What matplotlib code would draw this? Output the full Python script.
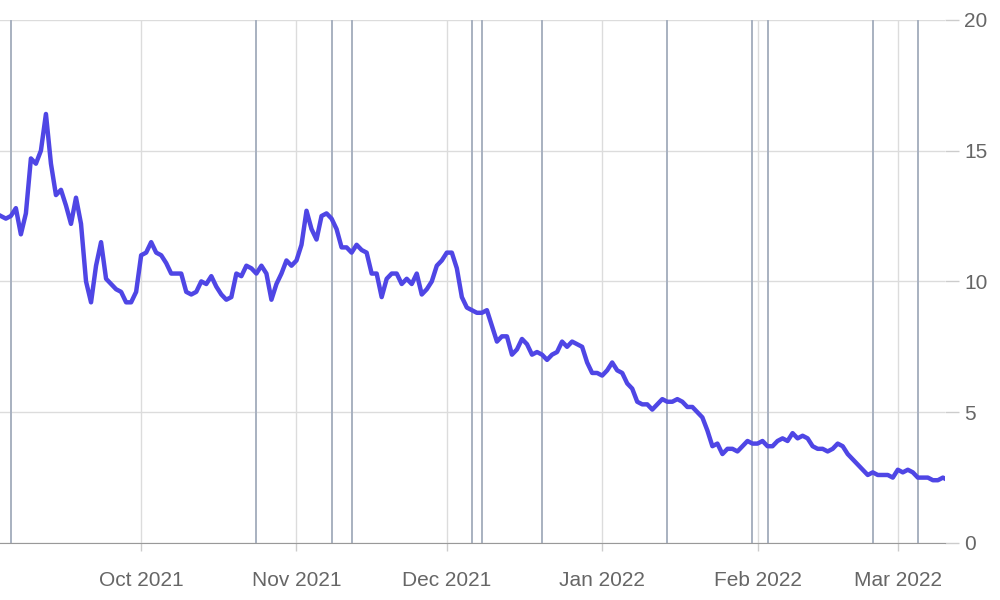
import matplotlib
matplotlib.use("Agg")
import matplotlib.pyplot as plt
import pandas as pd

start_date = "2021-09-03"
values = [12.5,12.4,12.5,12.8,11.8,12.6,14.7,14.5,15.0,16.4,14.5,13.3,13.5,12.9,12.2,13.2,12.2,10.0,9.2,10.6,
11.5,10.1,9.9,9.7,9.6,9.2,9.2,9.6,11.0,11.1,11.5,11.1,11.0,10.7,10.3,10.3,10.3,9.6,9.5,9.6,
10.0,9.9,10.2,9.8,9.5,9.3,9.4,10.3,10.2,10.6,10.5,10.3,10.6,10.3,9.3,9.9,10.3,10.8,10.6,10.8,
11.4,12.7,12.0,11.6,12.5,12.6,12.4,12.0,11.3,11.3,11.1,11.4,11.2,11.1,10.3,10.3,9.4,10.1,10.3,10.3,
9.9,10.1,9.9,10.3,9.5,9.7,10.0,10.6,10.8,11.1,11.1,10.5,9.4,9.0,8.9,8.8,8.8,8.9,8.3,7.7,
7.9,7.9,7.2,7.4,7.8,7.6,7.2,7.3,7.2,7.0,7.2,7.3,7.7,7.5,7.7,7.6,7.5,6.9,6.5,6.5,
6.4,6.6,6.9,6.6,6.5,6.1,5.9,5.4,5.3,5.3,5.1,5.3,5.5,5.4,5.4,5.5,5.4,5.2,5.2,5.0,
4.8,4.3,3.7,3.8,3.4,3.6,3.6,3.5,3.7,3.9,3.8,3.8,3.9,3.7,3.7,3.9,4.0,3.9,4.2,4.0,
4.1,4.0,3.7,3.6,3.6,3.5,3.6,3.8,3.7,3.4,3.2,3.0,2.8,2.6,2.7,2.6,2.6,2.6,2.5,2.8,
2.7,2.8,2.7,2.5,2.5,2.5,2.4,2.4,2.5,2.4]
event_dates = ["2021-09-05","2021-10-24","2021-11-08","2021-11-12","2021-12-06","2021-12-08",
               "2021-12-20","2022-01-14","2022-01-31","2022-02-03","2022-02-24","2022-03-05"]
month_ticks = ["2021-10-01","2021-11-01","2021-12-01","2022-01-01","2022-02-01","2022-03-01"]
month_labels = ["Oct 2021","Nov 2021","Dec 2021","Jan 2022","Feb 2022","Mar 2022"]
y_ticks = [0,5,10,15,20]

dates = pd.date_range(start_date, periods=len(values), freq="D")

fig = plt.figure(figsize=(10,6), dpi=100)
ax = fig.add_axes([0.0, 0.095, 0.945, 0.872])
ax.set_xlim(pd.Timestamp("2021-09-02 20:00"), pd.Timestamp("2022-03-10 10:00"))
ax.set_ylim(0,20)

for d in event_dates:
    ax.axvline(pd.Timestamp(d), color="#a8b1c0", lw=1.4, zorder=1)
ax.plot(dates, values, color="#4f46e5", lw=3.2, zorder=3, solid_joinstyle="round")

ax.set_xticks([pd.Timestamp(t) for t in month_ticks])
ax.set_xticklabels(month_labels)
ax.set_yticks(y_ticks)
ax.grid(True, color="#dcdcdc", lw=1)
ax.set_axisbelow(True)
ax.yaxis.tick_right()
for s in ["top","left"]:
    ax.spines[s].set_visible(False)
ax.spines["right"].set_visible(False)
ax.spines["bottom"].set_color("#999999")
ax.tick_params(axis="both", colors="#666666", labelsize=15, length=6, width=1)
ax.tick_params(axis="y", color="#cccccc", length=10, pad=4)
ax.tick_params(axis="x", color="#cccccc", pad=14)
for l in ax.get_xticklabels()+ax.get_yticklabels():
    l.set_fontfamily("Liberation Sans")
fig.savefig("out.png")
